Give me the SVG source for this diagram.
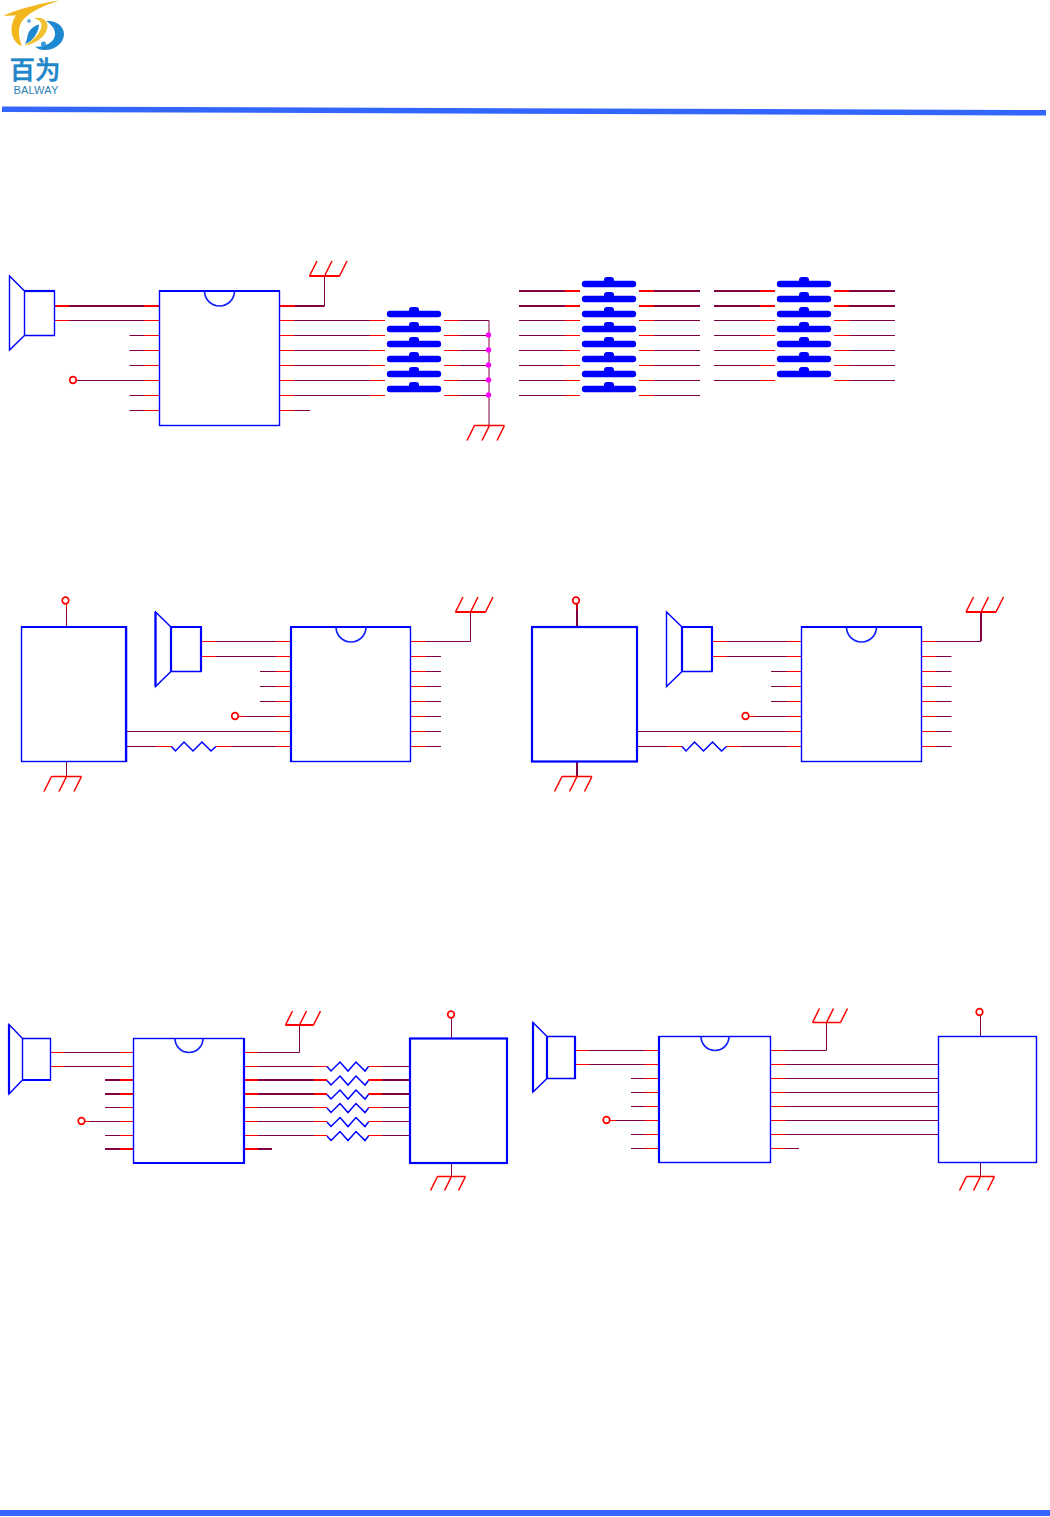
<svg xmlns="http://www.w3.org/2000/svg" xmlns:xlink="http://www.w3.org/1999/xlink" width="1050" height="1517" viewBox="0 0 1050 1517">
<style>
.b{fill:none;stroke:#00f;stroke-width:1.4}
.bt{fill:none;stroke:#00f;stroke-width:2.2}
.n{fill:none;stroke:#12f;stroke-width:1.7}
.m{fill:none;stroke:#800040;stroke-width:1}
.mt{fill:none;stroke:#800040;stroke-width:2}
.r{fill:none;stroke:#f00;stroke-width:1}
.rt{fill:none;stroke:#f00;stroke-width:2}
.g{fill:none;stroke:#f00;stroke-width:1.5}
.t{fill:none;stroke:#f00;stroke-width:1.7}
.z{fill:none;stroke:#00f;stroke-width:1.5}
.d{fill:#f0f}
</style>
<defs>
<g id="sw"><path d="M-24 0H24" fill="none" stroke="#00f" stroke-width="6.4" stroke-linecap="round"/><rect x="-5" y="-7" width="10" height="8" rx="3" fill="#00f"/></g>
<path id="gu" class="g" d="M0 0H30M0 0L7.5-15M15 0L22.5-15M30 0L37.5-15"/>
<path id="gd" class="g" d="M0 0H30M0 0L-7.5 15M15 0L7.5 15M30 0L22.5 15"/>
<path id="gu2" class="g" d="M0 0H28M0 0L7-14M14 0L21-14M28 0L35-14"/>
<path id="gd2" class="g" d="M0 0H28M0 0L-7 14M14 0L7 14M28 0L21 14"/>
<path id="r3" class="z" d="M0 0L4 4.5L12.500-4.500L21.500 4.500L30.500-4.500L39.500 4.500L44.500 0"/>
<path id="r4" class="z" d="M0 0L4 4.500L13-4.500L21 4.500L29-4.500L38 4.500L41.500 0"/>
</defs>

<g id="header">
<path d="M2 106.500L1046 110V115.500L2 112Z" fill="#36f"/>
<path d="M0 1510H1050V1516H0Z" fill="#36f"/>
</g>
<g id="logo">
<path d="M60 0.500C42 3 22 8 3.500 15.500C8 16 12 15.800 16 15.300C11.500 22 10.500 30 12.500 36C14 41 18 45 22 46C18.500 38 18 30 20.500 24C25 14 42 6 60 0.500Z" fill="#f2b71c"/>
<path d="M34 18C42 16.500 48 20 47.500 27C46.500 36 36 44 25 45.500C33 40 40.500 33 41.500 26.500C42 22.500 39 19.500 34 18Z" fill="#efc030"/>
<path d="M39 24.500C32 26.500 28.500 31 27.500 36C27 39.500 26 42 25 44C33 41 38.500 33 39 24.500Z" fill="#1e88d0"/>
<path d="M46 21C56 20 64 26 64 34C64 44 53 51 43 50C39.500 49.500 36.500 48 35 46.500C44 47.500 54 43 55 35C55.500 29 51.500 24.500 46 21Z" fill="#1e88d0"/>
<circle cx="29" cy="21" r="2" fill="#6ab0e0"/>
<circle cx="43.500" cy="44" r="2.600" fill="#3a9ad8"/>
<text x="35" y="78.500" text-anchor="middle" font-family="'Noto Sans CJK SC',sans-serif" font-size="25.500" font-weight="500" fill="#1f86c8" stroke="#1f86c8" stroke-width="0.500">百为</text>
<text x="36" y="93.800" text-anchor="middle" font-family="'Liberation Sans',sans-serif" font-size="11" letter-spacing="0.200" fill="#2f7fb8">BALWAY</text>
</g>

<g id="connectors">
<!-- section 1 -->
<path class="mt" d="M54 306H159M279 306H324.500"/>
<path class="m" d="M324.500 306V276M54 320.500H159M129.500 335.500H159M129.500 350.500H159M129.500 365.500H159M76 380.500H159M129.500 395.500H159M129.500 410.500H159M279 320.500H385M279 335.500H385M279 350.500H385M279 365.500H385M279 380.500H385M279 395.500H385M279 410.500H310M444 320.500H489V425M444 335.500H489M444 350.500H489M444 365.500H489M444 380.500H489M444 395.500H489"/>
<path class="rt" d="M54 306H69M144 306H159M279 306H295"/>
<path class="r" d="M54 320.500H69M144 320.500H159M144 335.500H159M144 350.500H159M144 365.500H159M144 380.500H159M144 395.500H159M144 410.500H159M279 320.500H294M279 335.500H294M279 350.500H294M279 365.500H294M279 380.500H294M279 395.500H294M279 410.500H294M370 320.500H385M370 335.500H385M370 350.500H385M370 365.500H385M370 380.500H385M370 395.500H385M444 320.500H459M444 335.500H459M444 350.500H459M444 365.500H459M444 380.500H459M444 395.500H459"/>
<path class="mt" d="M519 291H580M519 306H580M639 291H700M639 306H700M714 291H775M714 306H775M834 291H895M834 306H895"/>
<path class="m" d="M519 320.500H580M519 335.500H580M519 350.500H580M519 365.500H580M519 380.500H580M519 395.500H580M639 320.500H700M639 335.500H700M639 350.500H700M639 365.500H700M639 380.500H700M639 395.500H700M714 320.500H775M714 335.500H775M714 350.500H775M714 365.500H775M714 380.500H775M834 320.500H895M834 335.500H895M834 350.500H895M834 365.500H895M834 380.500H895"/>
<path class="rt" d="M565 291H580M565 306H580M639 291H654M639 306H654M760 291H775M760 306H775M834 291H849M834 306H849"/>
<path class="r" d="M565 320.500H580M565 335.500H580M565 350.500H580M565 365.500H580M565 380.500H580M565 395.500H580M639 320.500H654M639 335.500H654M639 350.500H654M639 365.500H654M639 380.500H654M639 395.500H654M760 320.500H775M760 335.500H775M760 350.500H775M760 365.500H775M760 380.500H775M834 320.500H849M834 335.500H849M834 350.500H849M834 365.500H849M834 380.500H849"/>
<!-- section 2 left -->
<path class="m" d="M66.500 604V627M66.500 761V776.500M201 641.500H291M201 656.500H291M260 671.500H291M260 686.500H291M260 701.500H291M239 716.500H291M126 731.500H291M126 746.500H171.500M216 746.500H291M411 641.500H470.500V612M411 656.500H441M411 671.500H441M411 686.500H441M411 701.500H441M411 716.500H441M411 731.500H441M411 746.500H441"/>
<path class="r" d="M66.500 604V609M201 641.500H216M276 641.500H291M201 656.500H216M276 656.500H291M276 671.500H291M276 686.500H291M276 701.500H291M239 716.500H245M276 716.500H291M276 731.500H291M156 746.500H171.500M216 746.500H231M276 746.500H291M411 641.500H426M411 656.500H426M411 671.500H426M411 686.500H426M411 701.500H426M411 716.500H426M411 731.500H426M411 746.500H426"/>
<!-- section 2 right -->
<path class="mt" d="M577 604V627M577 761V776.500M981 641V612"/>
<path class="m" d="M712 641.500H801.500M712 656.500H801.500M771 671.500H801.500M771 686.500H801.500M771 701.500H801.500M749 716.500H801.500M637 731.500H801.500M637 746.500H682M726.500 746.500H801.500M921 641.500H981M921 656.500H951.500M921 671.500H951.500M921 686.500H951.500M921 701.500H951.500M921 716.500H951.500M921 731.500H951.500M921 746.500H951.500"/>
<path class="r" d="M577 604V610M712 641.500H727M787 641.500H801.500M712 656.500H727M787 656.500H801.500M787 671.500H801.500M787 686.500H801.500M787 701.500H801.500M749 716.500H755M787 716.500H801.500M787 731.500H801.500M667 746.500H682M726.500 746.500H741M787 746.500H801.500M921 641.500H936M921 656.500H936M921 671.500H936M921 686.500H936M921 701.500H936M921 716.500H936M921 731.500H936M921 746.500H936"/>
<!-- section 3 left -->
<path class="m" d="M451.500 1018V1038M451.500 1163V1176.500M50.500 1052.500H133.500M50.500 1066.500H133.500M105 1107.500H133.500M85 1121.500H133.500M105 1135.500H133.500M244 1052.500H299.500V1025M244 1066.500H327M244 1107.500H327M244 1121.500H327M244 1135.500H327M368.500 1066.500H410M368.500 1107.500H410M368.500 1121.500H410M368.500 1135.500H410"/>
<path class="mt" d="M105 1080H133.500M105 1094H133.500M105 1149H133.500M244 1080H327M244 1094H327M244 1149H272M368.500 1080H410M368.500 1094H410"/>
<path class="r" d="M50.500 1052.500H64M50.500 1066.500H64M120 1052.500H133.500M120 1066.500H133.500M120 1107.500H133.500M85 1121.500H90M120 1121.500H133.500M120 1135.500H133.500M244 1052.500H258M244 1066.500H258M244 1107.500H258M244 1121.500H258M244 1135.500H258M314 1066.500H327M314 1107.500H327M314 1121.500H327M314 1135.500H327M368.500 1066.500H382M368.500 1107.500H382M368.500 1121.500H382M368.500 1135.500H382"/>
<path class="rt" d="M120 1080H133.500M120 1094H133.500M120 1149H133.500M244 1080H258M244 1094H258M244 1149H258M314 1080H327M314 1094H327M368.500 1080H382M368.500 1094H382"/>
<!-- section 3 right -->
<path class="m" d="M980.500 1016V1036M980.500 1163V1176.500M575 1050.500H659M575 1064.500H659M631 1078.500H659M631 1092.500H659M631 1106.500H659M610 1120.500H659M631 1134.500H659M631 1148.500H659M771 1050.500H826.500V1022.500M771 1064.500H938M771 1078.500H938M771 1092.500H938M771 1106.500H938M771 1120.500H938M771 1134.500H938M771 1148.500H799"/>
<path class="r" d="M575 1050.500H589M575 1064.500H589M645 1050.500H659M645 1064.500H659M645 1078.500H659M645 1092.500H659M645 1106.500H659M610 1120.500H616M645 1120.500H659M645 1134.500H659M645 1148.500H659M771 1050.500H785M771 1064.500H785M771 1078.500H785M771 1092.500H785M771 1106.500H785M771 1120.500H785M771 1134.500H785M771 1148.500H785"/>
</g>

<g id="s1-speaker"><path class="b" d="M24.500 291L9.500 276V350L24.500 335.500H54.500V291M24.500 291V335.500"/><path class="bt" d="M24 291H55"/></g>
<g id="s1-ic"><rect class="b" x="159.500" y="291" width="120" height="134.500"/><path class="bt" d="M159 291H280"/><path class="n" d="M204.500 291A15 15 0 0 0 234.500 291"/></g>
<g id="s1-gnd-top"><use href="#gu" x="309.500" y="276"/><path class="rt" d="M309.500 276H339.500"/></g>
<g id="s1-vdd"><circle class="t" cx="73" cy="380" r="3.300"/></g>
<g id="s1-keys-a"><use href="#sw" x="414" y="314"/><use href="#sw" x="414" y="329"/><use href="#sw" x="414" y="344"/><use href="#sw" x="414" y="359"/><use href="#sw" x="414" y="374"/><use href="#sw" x="414" y="389"/></g>
<g id="s1-junctions"><circle class="d" cx="488.500" cy="335" r="2.700"/><circle class="d" cx="488.500" cy="350" r="2.700"/><circle class="d" cx="488.500" cy="365" r="2.700"/><circle class="d" cx="488.500" cy="380" r="2.700"/><circle class="d" cx="488.500" cy="395" r="2.700"/></g>
<g id="s1-gnd-bottom"><use href="#gd" x="474.500" y="425.500"/></g>
<g id="s1-keys-b"><use href="#sw" x="609" y="284"/><use href="#sw" x="609" y="299"/><use href="#sw" x="609" y="314"/><use href="#sw" x="609" y="329"/><use href="#sw" x="609" y="344"/><use href="#sw" x="609" y="359"/><use href="#sw" x="609" y="374"/><use href="#sw" x="609" y="389"/></g>
<g id="s1-keys-c"><use href="#sw" x="804" y="284"/><use href="#sw" x="804" y="299"/><use href="#sw" x="804" y="314"/><use href="#sw" x="804" y="329"/><use href="#sw" x="804" y="344"/><use href="#sw" x="804" y="359"/><use href="#sw" x="804" y="374"/></g>

<g id="s2a-block"><rect class="b" x="21.500" y="627" width="105" height="134.500"/><path class="bt" d="M21 627H127M126 627V762"/></g>
<g id="s2a-vdd"><circle class="t" cx="65.500" cy="600.500" r="3.300"/></g>
<g id="s2a-gnd"><use href="#gd" x="51.500" y="776.500"/></g>
<g id="s2a-speaker"><path class="b" d="M171 627L155.500 612V686.500L171 671.500H201V627"/><path class="bt" d="M155.500 612V686.500M171 627V671.500M170 627H202M201 627V671.500"/></g>
<g id="s2a-res"><use href="#r3" x="171.500" y="746.500"/></g>
<g id="s2a-ic"><rect class="b" x="291" y="627" width="119.500" height="134.500"/><path class="bt" d="M291 627V762M290 627H411"/><path class="n" d="M336 627A15 15 0 0 0 366 627"/></g>
<g id="s2a-vin"><circle class="t" cx="235" cy="716" r="3.300"/></g>
<g id="s2a-gnd-top"><use href="#gu" x="455.500" y="612"/><path class="rt" d="M455.500 612H485.500"/></g>

<g id="s2b-block"><rect class="bt" x="532" y="627" width="105" height="134.500"/></g>
<g id="s2b-vdd"><circle class="t" cx="576" cy="600.500" r="3.300"/></g>
<g id="s2b-gnd"><use href="#gd" x="562" y="776.500"/></g>
<g id="s2b-speaker"><path class="b" d="M682 627L666.500 612V686.500L682 671.500H712V627"/><path class="bt" d="M682 627V671.500M681 627H713M712 627V671.500"/></g>
<g id="s2b-res"><use href="#r3" x="682" y="746.500"/></g>
<g id="s2b-ic"><rect class="b" x="801.500" y="627" width="120" height="134.500"/><path class="bt" d="M801 627H922"/><path class="n" d="M846.500 627A15 15 0 0 0 876.500 627"/></g>
<g id="s2b-vin"><circle class="t" cx="745.500" cy="716" r="3.300"/></g>
<g id="s2b-gnd-top"><use href="#gu" x="966" y="612"/><path class="rt" d="M966 612H996"/></g>

<g id="s3a-speaker"><path class="b" d="M22.500 1038.500L9 1024.500V1094L22.500 1080H50.500V1038.500H22.500V1080"/><path class="bt" d="M9 1024.500V1094M22 1080H51"/></g>
<g id="s3a-ic"><rect class="b" x="133.500" y="1038.500" width="110.500" height="124.500"/><path class="bt" d="M244 1038V1164M133 1163H245"/><path class="n" d="M175 1038.500A14 14 0 0 0 203 1038.500"/></g>
<g id="s3a-vin"><circle class="t" cx="81.500" cy="1121" r="3.300"/></g>
<g id="s3a-gnd-top"><use href="#gu2" x="285.500" y="1025"/><path class="rt" d="M285.500 1025H313.500"/></g>
<g id="s3a-res"><use href="#r4" x="327" y="1066.500"/><use href="#r4" x="327" y="1080.500"/><use href="#r4" x="327" y="1094.500"/><use href="#r4" x="327" y="1108"/><use href="#r4" x="327" y="1122"/><use href="#r4" x="327" y="1136"/></g>
<g id="s3a-block"><rect class="bt" x="410" y="1038.500" width="97" height="124.500"/></g>
<g id="s3a-vdd"><circle class="t" cx="451" cy="1014.500" r="3.300"/></g>
<g id="s3a-gnd"><use href="#gd2" x="437.500" y="1176.500"/></g>

<g id="s3b-speaker"><path class="b" d="M547 1036.500L533 1022.500V1092L547 1078.500H575V1036.500H547"/><path class="bt" d="M533 1022.500V1092M547 1036.500V1078.500M575 1036V1079"/></g>
<g id="s3b-ic"><rect class="b" x="659" y="1036.500" width="111.500" height="126"/><path class="bt" d="M659 1036V1163"/><path class="n" d="M701 1036.500A14 14 0 0 0 729 1036.500"/></g>
<g id="s3b-vin"><circle class="t" cx="606.500" cy="1120" r="3.300"/></g>
<g id="s3b-gnd-top"><use href="#gu2" x="812.500" y="1022.500"/></g>
<g id="s3b-block"><rect class="b" x="938.500" y="1036.500" width="98" height="126"/></g>
<g id="s3b-vdd"><circle class="t" cx="979.500" cy="1012" r="3.300"/></g>
<g id="s3b-gnd"><use href="#gd2" x="966.500" y="1176.500"/></g>
</svg>
